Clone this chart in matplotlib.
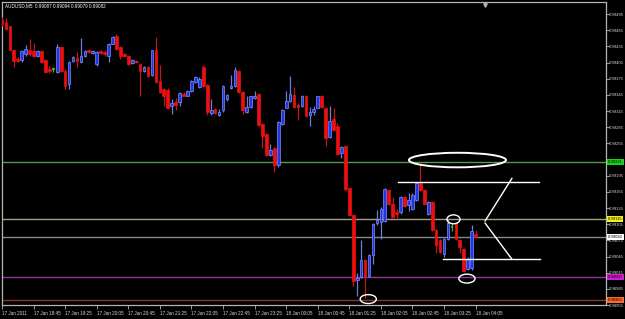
import matplotlib
matplotlib.use("Agg")
import matplotlib.pyplot as plt
from matplotlib.patches import Ellipse
import numpy as np

plt.rcParams['font.family'] = ['Liberation Sans', 'DejaVu Sans']

# ---- data (AUDUSD M5, 17 Jan 18:05 .. 18 Jan 04:05) ----
opens = [0.99484,0.99481,0.99472,0.99429,0.99411,0.99409,0.99420,0.99429,0.99426,0.99417,
         0.99426,0.99409,0.99393,0.99393,0.99387,0.99433,0.99389,0.99365,0.99407,0.99413,
         0.99406,0.99417,0.99429,0.99422,0.99402,0.99426,0.99424,0.99417,0.99440,0.99455,
         0.99433,0.99420,0.99417,0.99404,0.99407,0.99402,0.99389,0.99397,0.99382,0.99428,
         0.99371,0.99356,0.99354,0.99325,0.99332,0.99331,0.99347,0.99343,0.99353,0.99369,
         0.99360,0.99397,0.99364,0.99312,0.99318,0.99307,0.99316,0.99338,0.99358,0.99362,
         0.99389,0.99351,0.99314,0.99323,0.99340,0.99347,0.99290,0.99272,0.99234,0.99247,
         0.99214,0.99290,0.99321,0.99334,0.99345,0.99327,0.99325,0.99343,0.99307,0.99314,
         0.99321,0.99342,0.99320,0.99267,0.99300,0.99287,0.99237,0.99250,0.99172,0.99122,
         0.99001,0.99007,0.99038,0.99009,0.99047,0.99107,0.99109,0.99111,0.99168,0.99142,
         0.99128,0.99128,0.99155,0.99140,0.99133,0.99150,0.99181,0.99168,0.99124,0.99146,
         0.99095,0.99076,0.99049,0.99078,0.99100,0.99107,0.99076,0.99058,0.99021,0.99023,
         0.99087]
highs = [0.99490,0.99488,0.99473,0.99431,0.99415,0.99429,0.99437,0.99448,0.99442,0.99429,
         0.99428,0.99411,0.99398,0.99397,0.99439,0.99435,0.99393,0.99407,0.99417,0.99424,
         0.99451,0.99429,0.99431,0.99428,0.99426,0.99428,0.99428,0.99442,0.99455,0.99457,
         0.99435,0.99422,0.99418,0.99411,0.99409,0.99404,0.99398,0.99398,0.99429,0.99453,
         0.99400,0.99358,0.99358,0.99338,0.99340,0.99351,0.99351,0.99354,0.99373,0.99380,
         0.99378,0.99400,0.99365,0.99338,0.99321,0.99318,0.99364,0.99347,0.99382,0.99397,
         0.99391,0.99353,0.99342,0.99343,0.99353,0.99349,0.99292,0.99274,0.99254,0.99248,
         0.99296,0.99318,0.99353,0.99380,0.99360,0.99329,0.99345,0.99345,0.99323,0.99325,
         0.99343,0.99345,0.99321,0.99325,0.99320,0.99292,0.99250,0.99252,0.99173,0.99124,
         0.99014,0.99076,0.99040,0.99049,0.99107,0.99131,0.99137,0.99173,0.99170,0.99155,
         0.99133,0.99157,0.99157,0.99162,0.99162,0.99184,0.99214,0.99170,0.99148,0.99148,
         0.99096,0.99078,0.99080,0.99115,0.99107,0.99109,0.99078,0.99060,0.99045,0.99104,
         0.99094]
lows = [0.99473,0.99466,0.99428,0.99397,0.99406,0.99406,0.99418,0.99417,0.99415,0.99415,
        0.99404,0.99386,0.99386,0.99387,0.99386,0.99387,0.99356,0.99356,0.99406,0.99397,
        0.99404,0.99415,0.99422,0.99420,0.99398,0.99420,0.99417,0.99406,0.99439,0.99429,
        0.99411,0.99415,0.99400,0.99402,0.99404,0.99343,0.99387,0.99378,0.99380,0.99367,
        0.99349,0.99325,0.99318,0.99309,0.99316,0.99325,0.99342,0.99342,0.99351,0.99367,
        0.99358,0.99360,0.99307,0.99307,0.99309,0.99305,0.99314,0.99334,0.99356,0.99360,
        0.99349,0.99309,0.99312,0.99321,0.99338,0.99287,0.99247,0.99232,0.99232,0.99201,
        0.99212,0.99289,0.99320,0.99332,0.99321,0.99298,0.99323,0.99303,0.99287,0.99307,
        0.99320,0.99321,0.99250,0.99265,0.99278,0.99234,0.99228,0.99166,0.99120,0.98990,
        0.98972,0.99005,0.98968,0.99007,0.99031,0.99104,0.99078,0.99109,0.99140,0.99117,
        0.99115,0.99124,0.99137,0.99129,0.99131,0.99148,0.99166,0.99140,0.99122,0.99093,
        0.99051,0.99052,0.99045,0.99076,0.99093,0.99076,0.99052,0.99016,0.99020,0.99020,
        0.99079]
closes = [0.99477,0.99468,0.99429,0.99407,0.99407,0.99426,0.99431,0.99420,0.99417,0.99426,
          0.99406,0.99387,0.99389,0.99393,0.99433,0.99389,0.99362,0.99406,0.99415,0.99407,
          0.99417,0.99426,0.99424,0.99426,0.99424,0.99422,0.99420,0.99440,0.99453,0.99431,
          0.99417,0.99417,0.99402,0.99409,0.99406,0.99389,0.99397,0.99380,0.99428,0.99369,
          0.99351,0.99343,0.99320,0.99329,0.99327,0.99349,0.99343,0.99353,0.99371,0.99378,
          0.99375,0.99362,0.99314,0.99316,0.99311,0.99314,0.99362,0.99345,0.99362,0.99391,
          0.99351,0.99316,0.99323,0.99342,0.99343,0.99289,0.99268,0.99234,0.99243,0.99215,
          0.99294,0.99316,0.99334,0.99347,0.99323,0.99323,0.99343,0.99305,0.99314,0.99318,
          0.99342,0.99323,0.99265,0.99296,0.99279,0.99235,0.99248,0.99170,0.99122,0.98999,
          0.99005,0.99038,0.99007,0.99047,0.99106,0.99113,0.99133,0.99170,0.99142,0.99118,
          0.99124,0.99155,0.99139,0.99150,0.99159,0.99182,0.99168,0.99142,0.99146,0.99095,
          0.99067,0.99054,0.99078,0.99107,0.99100,0.99078,0.99063,0.99018,0.99041,0.99093,
          0.99082]

time_labels = ["17 Jan 2011", "17 Jan 18:45", "17 Jan 19:25", "17 Jan 20:05", "17 Jan 20:45",
               "17 Jan 21:25", "17 Jan 22:05", "17 Jan 22:45", "17 Jan 23:25", "18 Jan 00:05",
               "18 Jan 00:45", "18 Jan 01:25", "18 Jan 02:05", "18 Jan 02:45", "18 Jan 03:25",
               "18 Jan 04:05"]
price_ticks = [0.99495, 0.99465, 0.99435, 0.99405, 0.99375, 0.99345, 0.99315, 0.99285, 0.99255,
               0.99225, 0.99195, 0.99165, 0.99135, 0.99105, 0.99075, 0.99045, 0.99015, 0.98985, 0.98955]
hidden_tick = 0.99225   # covered by the green level label in the reference

# horizontal level lines: price, line colour, label background
level_prices = [0.99221, 0.99115, 0.99082, 0.99007, 0.98965]
level_colors = ["#4f9a4f", "#a49e82", "#8a8a8a", "#8c3c96", "#8a3426"]
level_label_bg = ["#19d219", "#f2f21a", "#ffffff", "#d21ed2", "#ff6a28"]

title = "AUDUSD,M5  0.99087 0.99094 0.99079 0.99082"

# ---- figure ----
W, H = 625, 319
fig = plt.figure(figsize=(W/100, H/100), dpi=100, facecolor="black")
ax = fig.add_axes([2/W, (H-305)/H, 604/W, 303/H], facecolor="black")

n = len(opens)
x = np.arange(n)
o = np.array(opens); c = np.array(closes); h = np.array(highs); l = np.array(lows)
up = c > o
dn = c < o
dj = c == o

wick_col = np.where(up, "#6f7fd8", np.where(dn, "#c01818", "#30c030"))
ax.vlines(x, l, h, colors=wick_col, linewidth=0.9, zorder=3)
bw = 0.68
ax.bar(x[up], (c - o)[up], bottom=o[up], width=bw, color="#2436e0",
       edgecolor="#7c8cff", linewidth=0.5, zorder=4)
ax.bar(x[dn], (o - c)[dn], bottom=c[dn], width=bw, color="#ee1010",
       edgecolor="#ee1010", linewidth=0.5, zorder=4)
ax.hlines(o[dj], x[dj] - bw/2, x[dj] + bw/2, colors="#30c030", linewidth=1.2, zorder=4)

for p, lc in zip(level_prices, level_colors):
    ax.axhline(p, color=lc, linewidth=1.0, zorder=2)

# user drawings (white)
dw = dict(color="white", linewidth=1.0, zorder=6)
ax.plot([100.4, 136.1], [0.99184, 0.99184], **dw)
ax.plot([111.8, 136.3], [0.99040, 0.99040], **dw)
ax.plot([129.2, 122.4], [0.99190, 0.99111], **dw)
ax.plot([122.4, 129.2], [0.99107, 0.99040], **dw)
for cx, cy, ew, eh, lw in [(115.4, 0.99224, 24.6, 0.000270, 1.4),
                           (114.4, 0.99114, 3.3, 0.000165, 1.0),
                           (117.8, 0.99004, 4.1, 0.000165, 1.0),
                           (92.8, 0.98966, 4.1, 0.000165, 1.0)]:
    ax.add_patch(Ellipse((cx, cy), ew, eh, fill=False, edgecolor="white",
                         linewidth=lw, zorder=7, clip_on=False))

ax.set_xlim((2 - 1.5)/3.95, (606 - 1.5)/3.95)
ax.set_ylim(0.989629, 0.995173)

for s in ax.spines.values():
    s.set_color("#b4b4b4")
    s.set_linewidth(0.9)
ax.yaxis.tick_right()
ax.set_yticks(price_ticks)
ax.set_yticklabels(["" if v == hidden_tick else f"{v:.5f}" for v in price_ticks])
ax.tick_params(axis="y", colors="#b4b4b4", labelcolor="#d8d8d8", labelsize=3.0,
               length=1.8, width=0.6, pad=0.5)
ax.set_xticks(np.arange(0, 8*len(time_labels), 8))
ax.set_xticklabels(time_labels)
ax.tick_params(axis="x", colors="#b4b4b4", labelcolor="#d8d8d8", labelsize=3.3,
               length=3, width=0.6, pad=1.0)
for t in ax.get_xticklabels():
    t.set_horizontalalignment("left")

for p, bg in zip(level_prices, level_label_bg):
    ax.text(1.003, p, f"{p:.5f}", transform=ax.get_yaxis_transform(), fontsize=3.0,
            color="black", va="center", ha="left", zorder=10, clip_on=False,
            bbox=dict(boxstyle="square,pad=0.25", facecolor=bg, edgecolor="none"))

ax.plot([122.4], [0.99512], marker="v", markersize=2.5, color="#b4b4b4", zorder=8, clip_on=False)

fig.text(5/W, 1 - 6/H, title, color="white", fontsize=3.3, va="center", ha="left")

fig.savefig("out.png", dpi=100, facecolor="black")
